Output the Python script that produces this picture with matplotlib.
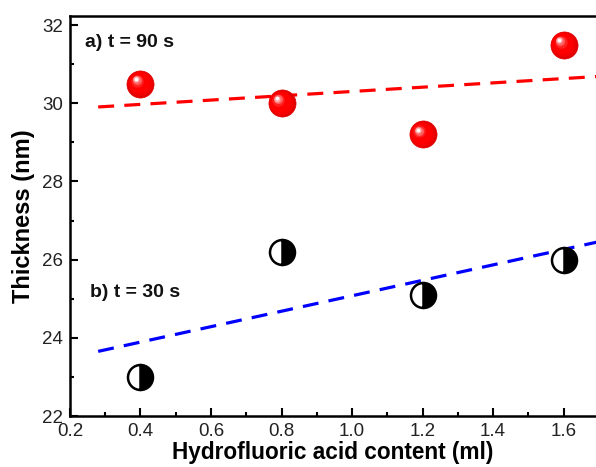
import numpy as np
import matplotlib.pyplot as plt
import matplotlib.transforms as mtransforms

plt.rcParams['font.family'] = ['Liberation Sans', 'DejaVu Sans']

# Hydrofluoric acid content (ml)
hf_content = [0.4, 0.8, 1.2, 1.6]
# Thickness (nm)
thick_90s = [30.5, 30.0, 29.2, 31.5]
thick_30s = [23.0, 26.2, 25.1, 26.0]

fig = plt.figure(figsize=(5.96, 4.67), dpi=100)
ax = fig.add_axes([0.1174, 0.1092, 0.8826, 0.8565])

# linear fits
xfit = np.array([0.28, 1.75])
p90 = np.polyfit(hf_content, thick_90s, 1)
p30 = np.polyfit(hf_content, thick_30s, 1)
ax.plot(xfit, np.polyval(p90, xfit), color='#ff0000', lw=2.3, dashes=(5, 3.2), zorder=2)
ax.plot(xfit, np.polyval(p30, xfit), color='#0000ff', lw=2.3, dashes=(5, 3.2), zorder=2)

# red "spheres": base + shading + highlight
ax.plot(hf_content, thick_90s, 'o', ms=19.5, mfc='#e00000', mec='#e00000', mew=0.5, zorder=3)
shade_steps = [(17.5, '#f50000', 0.5), (15, '#ff0000', 1.0), (9, '#ff2020', 2.2),
               (6.5, '#ff6060', 2.8), (4.5, '#ffa8a8', 3.2), (2.6, '#ffffff', 3.4)]
for ms, col, off in shade_steps:
    tr = mtransforms.offset_copy(ax.transData, fig=fig, x=-off, y=off, units='points')
    ax.plot(hf_content, thick_90s, 'o', ms=ms, mfc=col, mec='none', transform=tr, zorder=4)

# half-filled black circles
ax.plot(hf_content, thick_30s, 'o', ms=18, fillstyle='right', mfc='black',
        markerfacecoloralt='white', mec='black', mew=1.8, zorder=3)

ax.text(0.243, 31.56, 'a) t = 90 s', fontsize=14, fontweight='bold', va='center', color='#111111')
ax.text(0.257, 25.15, 'b) t = 30 s', fontsize=14, fontweight='bold', va='center', color='#111111')

ax.set_xlim(0.2, 1.692)
ax.set_ylim(22, 32.23)
ax.set_xticks([0.2, 0.4, 0.6, 0.8, 1.0, 1.2, 1.4, 1.6])
ax.set_xticks(np.arange(0.3, 1.7, 0.2), minor=True)
ax.set_yticks([22, 24, 26, 28, 30, 32])
ax.set_yticks([23, 25, 27, 29, 31], minor=True)
ax.set_xticklabels(['0.2', '0.4', '0.6', '0.8', '1.0', '1.2', '1.4', '1.6'])

ax.tick_params(which='major', direction='in', length=6, width=1.5, labelsize=13.5,
               labelcolor='#222222', top=False, right=False, pad=5)
ax.tick_params(which='minor', direction='in', length=3, width=1.5, top=False, right=False)
for s in ['left', 'bottom', 'top']:
    ax.spines[s].set_linewidth(1.8)
ax.spines['right'].set_visible(False)

ax.set_xlabel('Hydrofluoric acid content (ml)', fontsize=16.3, fontweight='bold', labelpad=1)
ax.set_ylabel('Thickness (nm)', fontsize=17, fontweight='bold', labelpad=5)

fig.savefig('out.png', dpi=100)
